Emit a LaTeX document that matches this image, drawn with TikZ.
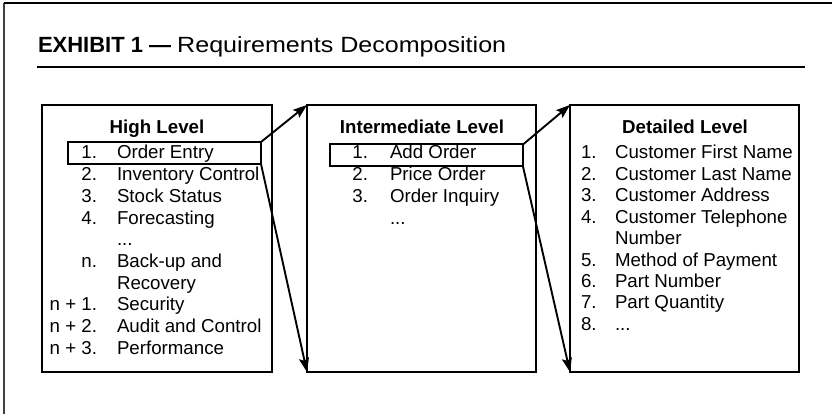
\documentclass[tikz,border=0pt]{standalone}
\usepackage{fontspec}
\setmainfont{Liberation Sans}
\newfontfamily\widesans[FakeStretch=1.14]{Liberation Sans}
\usetikzlibrary{arrows.meta}
\newcommand\etcdots{...}

\begin{document}
\begin{tikzpicture}[x=1pt,y=-1pt,
  every node/.style={inner sep=0pt, outer sep=0pt},
  panel/.style={draw, line width=2.4pt, anchor=north west,
                minimum width=#1, minimum height=267pt},
  pick/.style={draw, line width=2pt, anchor=north west,
               minimum width=193pt, minimum height=22pt},
  link/.style={-{Stealth[length=14pt,width=10pt,inset=2.5pt]}, line width=1.9pt},
  heading/.style={anchor=base, font=\fontsize{18.7}{22}\selectfont\bfseries},
  num/.style={anchor=base east, font=\fontsize{18.7}{22}\selectfont},
  entry/.style={anchor=base west, font=\fontsize{18.7}{22}\selectfont}]

\useasboundingbox (0,0) rectangle (832,414);

% page frame: rule on top, thin rule down the left side
\draw[line width=1.3pt, black!75] (4,414) -- (4,3);
\draw[line width=2pt] (4,3) -- (832,3);

% title and rule under it
\node[anchor=base west, font=\fontsize{22}{26}\selectfont] (title) at (38,53)
  {\textbf{EXHIBIT 1 —}\hspace{6pt}{\widesans Requirements Decomposition}};
\draw[line width=1.8pt] (37,67) -- (805,67);

% the three panels
\node[panel=230pt] (high) at (42,105) {};
\node[panel=229pt] (mid) at (307,105) {};
\node[panel=229pt] (low) at (570,105) {};

\node[heading] (highhead) at (157,134) {High Level};
\node[heading] (midhead) at (422,134) {Intermediate Level};
\node[heading] (lowhead) at (685,134) {Detailed Level};

% high level items
\foreach \n/\t [count=\i from 0] in
  {1./Order Entry, 2./Inventory Control, 3./Stock Status, 4./Forecasting,
   {}/\etcdots, n./Back-up and, {}/Recovery, n + 1./Security,
   n + 2./Audit and Control, n + 3./Performance}
{
  \node[num] (hn\i) at (97,159+21.7*\i) {\n};
  \node[entry] (ht\i) at (117,159+21.7*\i) {\t};
}

% intermediate level items
\foreach \n/\t [count=\i from 0] in
  {1./Add Order, 2./Price Order, 3./Order Inquiry, {}/\etcdots}
{
  \node[num] (mn\i) at (368,159+21.7*\i) {\n};
  \node[entry] (mt\i) at (390,159+21.7*\i) {\t};
}

% detailed level items
\foreach \n/\t [count=\i from 0] in
  {1./Customer First Name, 2./Customer Last Name, 3./Customer Address,
   4./Customer Telephone, {}/Number, 5./Method of Payment, 6./Part Number,
   7./Part Quantity, 8./\etcdots}
{
  \node[entry] (ln\i) at (581,159+21.4*\i) {\n};
  \node[entry] (lt\i) at (615,159+21.4*\i) {\t};
}

% selected items and their decomposition
\node[pick] (pickhigh) at (68,142) {};
\node[pick] (pickmid) at (330,144.5) {};

\draw[link] (pickhigh.north east) -- (mid.north west);
\draw[link] (pickhigh.south east) -- (mid.south west);
\draw[link] (pickmid.north east) -- (low.north west);
\draw[link] (pickmid.south east) -- (low.south west);
\end{tikzpicture}
\end{document}
